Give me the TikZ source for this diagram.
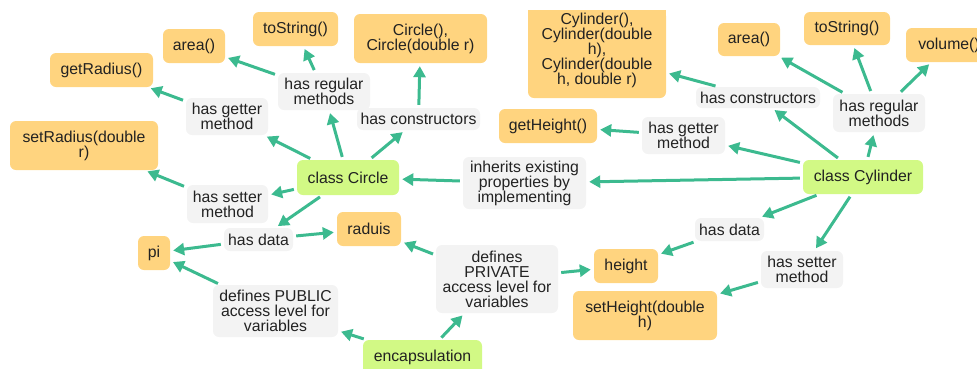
\documentclass[tikz,border=0pt]{standalone}
\usepackage{fontspec}
\setmainfont{Liberation Sans}
\usetikzlibrary{arrows.meta}
\definecolor{concfill}{HTML}{FFD47F}
\definecolor{classfill}{HTML}{D2F985}
\definecolor{linkfill}{HTML}{F3F3F3}
\definecolor{edgecol}{HTML}{3CBA8F}
\definecolor{txt}{HTML}{222222}
\tikzset{
  box/.style={rounded corners=6pt, inner sep=0pt, align=center, text=txt,
    font=\fontsize{15.8}{15}\selectfont},
  conc/.style={box, fill=concfill},
  klass/.style={box, fill=classfill},
  phrase/.style={box, fill=linkfill},
  sz/.style 2 args={minimum width=#1pt, minimum height=#2pt},
  link/.style={draw=edgecol, line width=3pt, shorten <=3pt, shorten >=3pt,
    -{Triangle[length=11pt,width=12pt]}}
}
\begin{document}
\begin{tikzpicture}[x=1pt,y=-1pt]
\useasboundingbox (0,0) rectangle (977,368);

% ---- concepts ----
\node[conc, sz={62}{34}]   (areaL) at (194,46)    {area()};
\node[conc, sz={85}{34}]   (strL)  at (295.5,29)  {toString()};
\node[conc, sz={103}{34}]  (getR)  at (101.5,70)  {getRadius()};
\node[conc, sz={148}{49}]  (setR)  at (84,145.5)  {setRadius(double\\r)};
\node[conc, sz={133}{49}]  (ctorC) at (420.5,38.5){Circle(),\\Circle(double r)};
\node[conc, sz={138}{88}]  (ctorY) at (597,54)    {};
\fill[concfill] (ctorY.north west) rectangle ([yshift=-8pt]ctorY.north east);
\node[box] (ctorYt) at ([yshift=4pt]ctorY.center)
  {Cylinder(),\\Cylinder(double\\h),\\Cylinder(double\\h, double r)};
\node[conc, sz={98}{34}]   (getH)  at (548,126)   {getHeight()};
\node[conc, sz={62}{33}]   (areaR) at (749,39.5)  {area()};
\node[conc, sz={86}{33}]   (strR)  at (847,28.5)  {toString()};
\node[conc, sz={86}{34}]   (vol)   at (949,45)    {volume()};
\node[conc, sz={32}{34}]   (pi)    at (154,253)   {pi};
\node[conc, sz={64}{34}]   (rad)   at (369,229)   {raduis};
\node[conc, sz={64}{34}]   (hgt)   at (626,266)   {height};
\node[conc, sz={144}{49}]  (setH)  at (645,315.5) {setHeight(double\\h)};

% ---- classes ----
\node[klass, sz={102}{35}] (circ)  at (348,177.5) {class Circle};
\node[klass, sz={120}{34}] (cyl)   at (863,177)   {class Cylinder};
\node[klass, sz={119}{35}] (enc)   at (422.5,357.5) {encapsulation};

% ---- linking phrases ----
\node[phrase, sz={92}{37}]  (regL)  at (324,91.5)  {has regular\\methods};
\node[phrase, sz={82}{37}]  (gtL)   at (227,116.5) {has getter\\method};
\node[phrase, sz={123}{22}] (conL)  at (418.5,119) {has constructors};
\node[phrase, sz={81}{38}]  (stL)   at (227.5,204) {has setter\\method};
\node[phrase, sz={69}{23}]  (datL)  at (258.5,239.5) {has data};
\node[phrase, sz={125}{52}] (pub)   at (275.5,311) {defines PUBLIC\\access level for\\variables};
\node[phrase, sz={123}{52}] (inh)   at (524.5,183) {inherits existing\\properties by\\implementing};
\node[phrase, sz={122}{68}] (priv)  at (497,279)   {defines\\PRIVATE\\access level for\\variables};
\node[phrase, sz={124}{21}] (conR)  at (758,97.5)  {has constructors};
\node[phrase, sz={83}{37}]  (gtR)   at (683.5,135.5) {has getter\\method};
\node[phrase, sz={92}{38}]  (regR)  at (879,113)   {has regular\\methods};
\node[phrase, sz={69}{23}]  (datR)  at (729.5,229.5) {has data};
\node[phrase, sz={82}{37}]  (stR)   at (802,269.5) {has setter\\method};

% ---- connectors: class Circle ----
\draw[link] (circ) -- (regL);
\draw[link] (regL) -- (areaL);
\draw[link] (regL) -- (strL);
\draw[link] (circ) -- (gtL);
\draw[link] (gtL) -- (getR);
\draw[link] (circ) -- (conL);
\draw[link] (conL) -- (ctorC);
\draw[link] (circ) -- (stL);
\draw[link] (stL) -- (setR);
\draw[link] (circ) -- (datL);
\draw[link] (datL) -- (pi);
\draw[link] (datL) -- (rad);

% ---- connectors: encapsulation ----
\draw[link] (enc) -- (pub);
\draw[link] (pub) -- (pi);
\draw[link] (enc) -- (priv);
\draw[link] (priv) -- (rad);
\draw[link] (priv) -- (hgt);

% ---- connectors: class Cylinder ----
\draw[link] (cyl) -- (inh);
\draw[link] (inh) -- (circ);
\draw[link] (cyl) -- (gtR);
\draw[link] (gtR) -- (getH);
\draw[link] (cyl) -- (conR);
\draw[link] (conR) -- (ctorY);
\draw[link] (cyl) -- (regR);
\draw[link] (regR) -- (areaR);
\draw[link] (regR) -- (strR);
\draw[link] (regR) -- (vol);
\draw[link] (cyl) -- (datR);
\draw[link] (datR) -- (hgt);
\draw[link] (cyl) -- (stR);
\draw[link] (stR) -- (setH);
\end{tikzpicture}
\end{document}
